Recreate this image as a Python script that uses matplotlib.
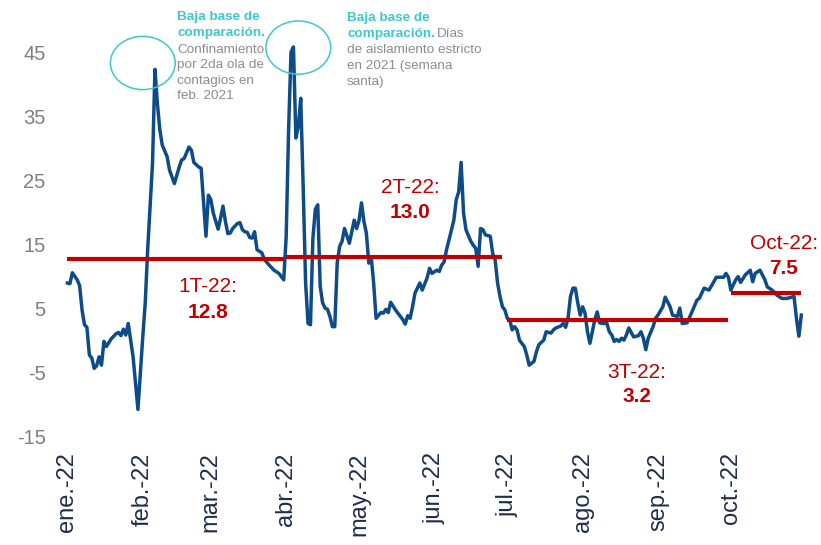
import numpy as np
import pandas as pd
import matplotlib
matplotlib.use("Agg")
import matplotlib.pyplot as plt
import matplotlib.dates as mdates
from matplotlib.patches import Ellipse

plt.rcParams['font.family'] = ['Liberation Sans', 'DejaVu Sans']
plt.rcParams['axes.unicode_minus'] = False

# dias desde el 1 de enero de 2022 y variacion anual (%)
dias = [0, 1, 2, 4, 5, 6, 7, 8, 9, 10, 11, 12, 13, 14, 15, 16, 18, 20, 21, 22,
        23, 24, 25, 27, 29, 31, 32, 33, 35, 36, 37, 38, 39, 41, 42, 44, 46, 47, 48, 50,
        51, 52, 54, 55, 57, 58, 59, 60, 62, 63, 64, 65, 66, 67, 68, 70, 71, 72, 73, 74,
        75, 76, 77, 78, 80, 81, 83, 85, 87, 88, 89, 90, 91, 92, 93, 94, 95, 96, 97, 98,
        99, 100, 101, 102, 103, 104, 105, 106, 107, 108, 109, 110, 111, 112, 113, 114, 116, 118, 119, 120,
        121, 122, 123, 124, 125, 126, 127, 129, 130, 131, 132, 133, 135, 137, 138, 139, 140, 141, 142, 143,
        145, 146, 148, 149, 150, 152, 153, 154, 155, 156, 157, 159, 160, 161, 162, 163, 164, 166, 167, 168,
        169, 170, 171, 172, 174, 175, 176, 177, 178, 179, 180, 181, 182, 183, 184, 185, 186, 187, 188, 189,
        190, 192, 193, 194, 196, 197, 199, 200, 201, 203, 204, 205, 206, 207, 208, 209, 210, 211, 212, 213,
        214, 215, 216, 217, 218, 219, 220, 222, 223, 224, 225, 226, 227, 228, 229, 230, 231, 233, 234, 235,
        236, 237, 238, 239, 241, 242, 243, 245, 246, 248, 249, 251, 252, 253, 255, 257, 259, 260, 262, 264,
        266, 267, 270, 271, 272, 273, 275, 276, 277, 279, 281, 282, 283, 285, 287, 288, 290, 292, 294, 296,
        298, 299, 300, 301, 302]
valor = [9.0, 8.9, 10.6, 9.5, 8.6, 4.8, 2.5, 2.1, -2.2, -2.7, -4.3, -3.9, -2.5, -3.8, -0.1, -0.9, 0.3, 1.1, 1.3, 0.8,
         1.8, 0.9, 2.7, -2.5, -10.7, 0.7, 5.9, 14.2, 27.7, 42.3, 37.0, 32.9, 30.5, 28.7, 26.6, 24.5, 27.1, 28.2, 28.4, 30.2,
         29.7, 27.8, 27.1, 26.9, 16.3, 22.7, 22.0, 19.9, 17.4, 19.1, 21.0, 18.6, 16.7, 16.8, 17.5, 18.3, 18.4, 17.3, 17.0, 16.9,
         16.1, 16.0, 17.0, 14.2, 13.7, 12.7, 11.8, 11.0, 10.5, 10.0, 9.5, 16.2, 32.9, 45.0, 45.8, 31.6, 33.4, 37.8, 24.0, 9.0,
         2.7, 2.5, 16.0, 20.5, 21.2, 8.5, 5.9, 5.1, 4.9, 3.8, 2.2, 2.2, 12.1, 14.7, 15.5, 17.5, 15.2, 18.8, 17.5, 18.8,
         21.5, 18.6, 16.8, 12.1, 13.1, 9.0, 3.5, 4.4, 4.3, 4.9, 4.4, 6.0, 4.8, 3.8, 3.3, 2.6, 3.9, 3.5, 5.3, 7.4,
         9.0, 7.9, 9.8, 11.3, 10.5, 11.0, 10.8, 11.8, 12.3, 14.2, 15.7, 18.8, 22.0, 23.2, 27.8, 19.9, 17.3, 15.5, 14.9, 14.4,
         11.6, 17.5, 17.3, 16.5, 16.3, 13.6, 12.6, 9.0, 6.9, 5.3, 4.8, 3.5, 3.3, 1.7, 2.2, 1.7, 0.1, -0.4, -0.9, -2.2,
         -3.8, -3.2, -1.7, -0.6, 0.1, 1.4, 1.2, 1.7, 2.0, 2.3, 2.7, 2.1, 3.5, 6.9, 8.2, 8.2, 5.9, 4.0, 5.3, 4.3,
         1.4, -0.4, 1.4, 3.3, 4.5, 2.8, 2.7, 2.7, 1.4, 0.9, -0.1, 0.2, -0.1, 0.4, 0.1, 0.9, 2.0, 0.6, 0.7, 0.8,
         1.4, 0.4, -1.4, 0.4, 2.2, 3.5, 4.0, 5.3, 6.8, 5.3, 4.0, 3.8, 5.1, 2.7, 2.8, 4.5, 6.3, 6.6, 8.2, 7.9,
         9.2, 9.9, 9.9, 10.5, 9.9, 7.9, 9.5, 10.0, 9.1, 10.3, 11.0, 9.2, 10.5, 11.0, 9.5, 8.4, 7.9, 7.1, 6.6, 6.6,
         6.8, 6.9, 3.5, 0.7, 4.0]

# promedios por trimestre
prom_ini = ['2022-01-01', '2022-04-01', '2022-07-01', '2022-10-01']
prom_fin = ['2022-03-31', '2022-06-29', '2022-09-30', '2022-10-30']
prom_val = [12.8, 13.0, 3.2, 7.5]
prom_tit = ['1T-22:', '2T-22:', '3T-22:', 'Oct-22:']
prom_txt = ['12.8', '13.0', '3.2', '7.5']

meses = ['ene.-22', 'feb.-22', 'mar.-22', 'abr.-22', 'may.-22', 'jun.-22',
         'jul.-22', 'ago.-22', 'sep.-22', 'oct.-22']

W, H = 821, 545
azul = '#0E4C89'
rojo = '#C00000'
cian = '#3CC8CC'
gris = '#8C8C8C'

inicio = pd.Timestamp('2022-01-01')
fechas = inicio + pd.to_timedelta(dias, unit='D')

fig = plt.figure(figsize=(W / 100, H / 100), dpi=100)
ax = fig.add_axes([58 / W, (H - 437) / H, (812 - 58) / W, (437 - 20) / H])

ax.plot(fechas, valor, color=azul, lw=2.5, zorder=3, solid_joinstyle='round')
for a, b, v in zip(prom_ini, prom_fin, prom_val):
    ax.plot([pd.Timestamp(a), pd.Timestamp(b)], [v, v], color=rojo, lw=3, zorder=4,
            solid_capstyle='butt')

ax.set_ylim(-15, 50)
ax.set_xlim(inicio - pd.Timedelta(days=3.9), inicio + pd.Timedelta(days=306.4))
ax.set_yticks([-15, -5, 5, 15, 25, 35, 45])
ticks = pd.date_range('2022-01-01', periods=10, freq='MS')
ax.set_xticks(ticks)
ax.set_xticklabels(meses, rotation=90)
ax.tick_params(axis='y', length=0, pad=9, labelsize=14.5, labelcolor='#7F7F7F')
ax.tick_params(axis='x', length=0, pad=11, labelsize=17, labelcolor='#1F2D4D')
for s in ax.spines.values():
    s.set_visible(False)

# circulos sobre los picos
for centro, val in [('2022-02-01', 43.3), ('2022-04-06', 45.7)]:
    c = mdates.date2num(pd.Timestamp(centro))
    ax.add_patch(Ellipse((c, val), 26.7, 8.3, fill=False, edgecolor=cian, lw=1.1,
                         clip_on=False, zorder=5))


def ftxt(x, y, s, **kw):
    fig.text(x / W, 1 - y / H, s, **kw)


fs = 9.7
ftxt(177, 17, 'Baja base de', color=cian, fontsize=fs, weight='bold', va='center')
ftxt(177, 33, 'comparación.', color=cian, fontsize=fs, weight='bold', va='center')
ftxt(177, 73, 'Confinamiento\npor 2da ola de\ncontagios en\nfeb. 2021', color=gris,
     fontsize=fs, va='center', linespacing=1.4)

ftxt(347, 18, 'Baja base de', color=cian, fontsize=fs, weight='bold', va='center')
ftxt(347, 34, 'comparación.', color=cian, fontsize=fs, weight='bold', va='center')
ftxt(437, 34, 'Días', color=gris, fontsize=fs, va='center')
ftxt(347, 66, 'de aislamiento estricto\nen 2021 (semana\nsanta)', color=gris,
     fontsize=fs, va='center', linespacing=1.4)

# etiquetas de promedios
pos = [(208, 287), (410, 187), (637, 372), (784, 243)]
for (x, y), t, v in zip(pos, prom_tit, prom_txt):
    ftxt(x, y, t, color=rojo, fontsize=15, ha='center', va='center')
    ftxt(x, y + 25, v, color=rojo, fontsize=15, weight='bold', ha='center', va='center')

fig.savefig('out.png', dpi=100)
